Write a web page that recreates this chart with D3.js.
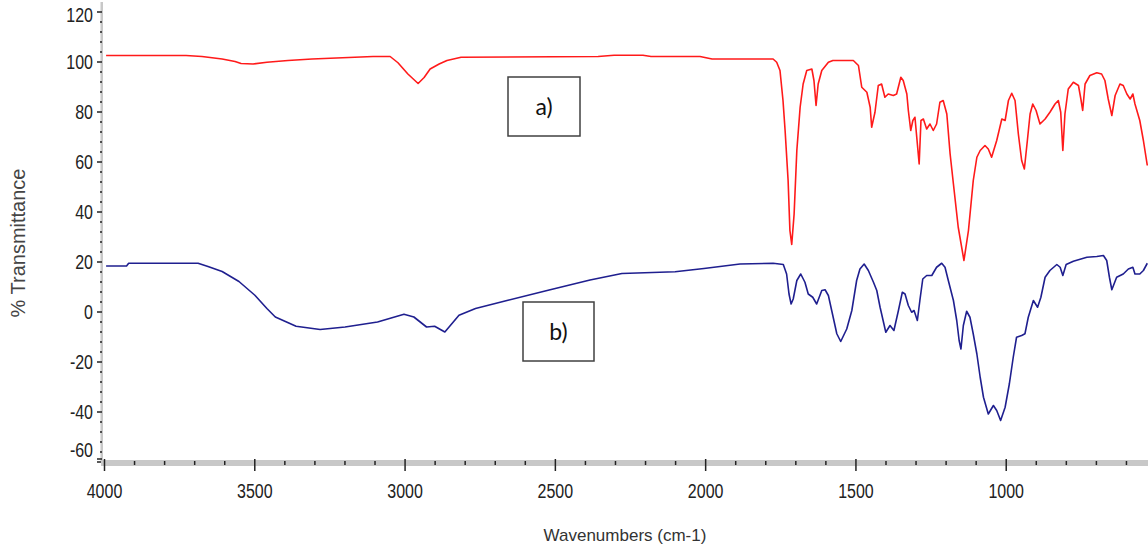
<!DOCTYPE html>
<html>
<head>
<meta charset="utf-8">
<script src="https://cdnjs.cloudflare.com/ajax/libs/d3/7.8.5/d3.min.js"></script>
<style>
  body { margin: 0; background: #fff; }
  svg { display: block; }
</style>
</head>
<body>
<div id="chart"></div>
<script>
// spectrum a) (red)
const redWavenumbers = [3993, 3727, 3674, 3607, 3564, 3544, 3504, 3458, 3388, 3308, 3105, 3048, 3022, 2989, 2955, 2935, 2915, 2885, 2859, 2812,
    2356, 2303, 2207, 2180, 2017, 1977, 1774, 1762, 1751, 1741, 1734, 1724, 1718, 1712, 1704, 1695, 1684, 1674, 1662, 1645,
    1638, 1631, 1624, 1612, 1590, 1575, 1507, 1490, 1479, 1462, 1451, 1446, 1435, 1424, 1413, 1402, 1391, 1374, 1363, 1349,
    1341, 1329, 1324, 1316, 1309, 1302, 1296, 1288, 1282, 1274, 1263, 1252, 1241, 1230, 1219, 1208, 1196, 1185, 1174, 1158,
    1139, 1124, 1108, 1096, 1085, 1069, 1058, 1047, 1030, 1013, 1002, 991, 980, 969, 958, 947, 938, 928, 919, 910,
    899, 886, 869, 853, 836, 825, 817, 810, 803, 792, 775, 758, 750, 744, 736, 720, 697, 681, 670, 659,
    647, 636, 620, 609, 597, 586, 577, 570, 554, 542, 529];
const redTransmittance = [102.4, 102.4, 102, 101, 100, 99.2, 99, 99.7, 100.4, 101, 102, 102, 99.5, 95, 91.2, 93.6, 97, 99, 100.4, 101.7,
    102, 102.5, 102.5, 102, 102, 101, 101, 99.7, 96.4, 84.4, 72.4, 52.4, 32.4, 26.8, 39, 64.4, 81.7, 91, 96.4, 97,
    92.4, 82.4, 91, 96.4, 99.7, 100.4, 100.4, 98.4, 89.7, 87.7, 81.7, 73.7, 79.7, 90.4, 91, 85.7, 87, 86.4, 87, 93.7,
    92.4, 87, 80.4, 72.4, 76.4, 77.7, 69.7, 59, 76.4, 77, 73, 75, 72.4, 75, 83.7, 84.4, 79, 63, 51, 33.7,
    20.4, 32.4, 52.4, 61.7, 64.4, 66.4, 65, 61.7, 68.4, 77, 76.4, 84.4, 87.3, 84.4, 71, 60.4, 57, 68.4, 79, 83,
    80.4, 75, 77, 79.7, 83, 84.4, 79.7, 64.4, 79, 89, 91.7, 90.4, 85, 80.4, 91, 94.4, 95.5, 95, 92.4, 85,
    78.4, 86.4, 91, 90.4, 87, 85, 87, 83, 76.4, 68.4, 58.4];

// spectrum b) (blue)
const blueWavenumbers = [3993, 3925, 3918, 3687, 3654, 3607, 3551, 3498, 3458, 3430, 3361, 3281, 3198, 3090, 3002, 2969, 2927, 2900, 2866, 2819,
    2764, 2656, 2519, 2383, 2277, 2100, 2004, 1884, 1774, 1740, 1729, 1721, 1714, 1707, 1695, 1682, 1668, 1657, 1642, 1629,
    1612, 1601, 1590, 1579, 1562, 1549, 1529, 1512, 1496, 1485, 1471, 1457, 1440, 1429, 1418, 1399, 1385, 1372, 1357, 1344,
    1335, 1324, 1313, 1305, 1294, 1285, 1276, 1263, 1246, 1230, 1213, 1202, 1191, 1174, 1163, 1155, 1149, 1141, 1130, 1119,
    1108, 1096, 1085, 1074, 1058, 1041, 1030, 1017, 1002, 988, 975, 964, 947, 936, 925, 908, 894, 883, 869, 853,
    830, 819, 810, 799, 775, 730, 697, 675, 664, 655, 647, 631, 609, 592, 577, 570, 554, 542, 529];
const blueTransmittance = [18.2, 18.2, 19.3, 19.3, 18, 16, 12, 6.5, 1.2, -2.2, -5.9, -7.2, -6.2, -4.2, -1.1, -2.2, -6.2, -5.9, -8.2, -1.5,
    1.2, 4.5, 8.6, 12.6, 15.2, 15.9, 17.2, 19, 19.3, 18.8, 15, 7, 3, 5, 12.4, 15, 11.7, 7, 5.7, 3,
    8.4, 8.7, 6.4, 0.4, -8.9, -12, -7, 0.4, 12.4, 17, 19, 16.4, 11.7, 8.4, 1.7, -8.3, -5.6, -7.6, 0.4, 7.7,
    7, 2.4, -0.3, 0.4, -3.6, 5, 13, 14.4, 14.4, 17.7, 19.3, 17.7, 12.4, 4.4, -3.6, -11.6, -15, -5.6, 0.1, -2.3,
    -9, -17, -26.3, -34.3, -41, -37.6, -39.6, -43.6, -38.3, -29, -18.3, -10.3, -9.6, -8.9, -2.3, 4.4, 1.7, 5.7, 13.7, 16.4,
    18.8, 17.7, 14.4, 18.8, 20.1, 21.7, 22, 22.4, 20.4, 13.7, 8.7, 13.7, 15, 17, 17.7, 15, 15, 16.4, 19.3];

const xTickValues = [4000, 3500, 3000, 2500, 2000, 1500, 1000];
const yTickValues = [120, 100, 80, 60, 40, 20, 0, -20, -40, -60];
const seriesLabels = ["a)", "b)"];

const width = 1148;
const height = 550;

const svg = d3.select("#chart")
    .append("svg")
    .attr("width", width)
    .attr("height", height);

const x = d3.scaleLinear()
    .domain([4000, 525])
    .range([104, 1148.5]);

const y = d3.scaleLinear()
    .domain([-60, 120])
    .range([461.5, 11.5]);

const labelFont = "'Liberation Sans', Arial, sans-serif";

// left axis: light gray band with dark ticks
svg.append("rect")
    .attr("x", 100.5)
    .attr("y", 2)
    .attr("width", 2.5)
    .attr("height", 459)
    .attr("fill", "#c8c8c8");

const yMinor = d3.range(-60, 121, 4).filter(v => v % 20 !== 0);
svg.append("g")
    .attr("transform", "translate(102,0)")
    .call(d3.axisLeft(y).tickValues(yMinor).tickSize(2).tickFormat(""))
    .call(g => g.select(".domain").remove())
    .call(g => g.selectAll("line").attr("stroke", "#222").attr("stroke-width", 1.5));

const yAxisGroup = svg.append("g")
    .attr("transform", "translate(102,0)")
    .call(d3.axisLeft(y).tickValues(yTickValues).tickSize(5).tickPadding(4).tickFormat(d => String(d)))
    .call(g => g.select(".domain").remove());

yAxisGroup.selectAll("line")
    .attr("stroke", "#222")
    .attr("stroke-width", 1.5);

yAxisGroup.selectAll("text")
    .attr("font-family", labelFont)
    .attr("font-size", 16)
    .attr("fill", "#222")
    .attr("dy", "0.36em")
    .attr("transform", d => {
        let off = 0;
        if (d === 120) off = 3;
        if (d === -60) off = -12;
        return `translate(0,${off}) scale(1,1.3)`;
    });

// bottom axis: thick gray bar
svg.append("rect")
    .attr("x", 101)
    .attr("y", 460)
    .attr("width", width - 101)
    .attr("height", 6)
    .attr("fill", "#c8c8c8");

const xMinor = d3.range(4000, 500, -100).filter(v => v % 500 !== 0);
svg.append("g")
    .attr("transform", "translate(0,461)")
    .call(d3.axisBottom(x).tickValues(xMinor).tickSize(4).tickFormat(""))
    .call(g => g.select(".domain").remove())
    .call(g => g.selectAll("line").attr("stroke", "#222").attr("stroke-width", 1.5));

const xAxisGroup = svg.append("g")
    .attr("transform", "translate(0,459)")
    .call(d3.axisBottom(x).tickValues(xTickValues).tickSize(12).tickFormat(d => String(d)))
    .call(g => g.select(".domain").remove());

xAxisGroup.selectAll("line")
    .attr("stroke", "#222")
    .attr("stroke-width", 1.5);

xAxisGroup.selectAll("text")
    .attr("font-family", labelFont)
    .attr("font-size", 16)
    .attr("fill", "#222")
    .attr("y", 0)
    .attr("dy", 0)
    .attr("transform", "translate(0,39) scale(1,1.3)");

// corner tick at the bottom of the left axis
svg.append("line")
    .attr("x1", 97)
    .attr("x2", 102)
    .attr("y1", 459)
    .attr("y2", 459)
    .attr("stroke", "#222")
    .attr("stroke-width", 1.5);

// axis titles
svg.append("text")
    .attr("x", 625)
    .attr("y", 541)
    .attr("text-anchor", "middle")
    .attr("font-family", labelFont)
    .attr("font-size", 17)
    .attr("fill", "#333")
    .text("Wavenumbers (cm-1)");

svg.append("text")
    .attr("transform", "translate(25,243) rotate(-90)")
    .attr("text-anchor", "middle")
    .attr("font-family", labelFont)
    .attr("font-size", 20)
    .attr("fill", "#444")
    .text("% Transmittance");

// spectra
const line = d3.line()
    .x(d => x(d[0]))
    .y(d => y(d[1]))
    .curve(d3.curveLinear);

svg.append("path")
    .datum(redWavenumbers.map((w, i) => [w, redTransmittance[i]]))
    .attr("fill", "none")
    .attr("stroke", "#ff1a1a")
    .attr("stroke-width", 1.6)
    .attr("stroke-linejoin", "round")
    .attr("d", line);

svg.append("path")
    .datum(blueWavenumbers.map((w, i) => [w, blueTransmittance[i]]))
    .attr("fill", "none")
    .attr("stroke", "#1f1f8f")
    .attr("stroke-width", 1.6)
    .attr("stroke-linejoin", "round")
    .attr("d", line);

// boxed labels a) and b)
const boxes = [
    { x: 508, y: 77, w: 72, h: 59 },
    { x: 523, y: 302, w: 71, h: 59 }
];

boxes.forEach((b, i) => {
    svg.append("rect")
        .attr("x", b.x)
        .attr("y", b.y)
        .attr("width", b.w)
        .attr("height", b.h)
        .attr("fill", "#fff")
        .attr("stroke", "#404040")
        .attr("stroke-width", 1.5);

    svg.append("text")
        .attr("x", b.x + b.w / 2)
        .attr("y", b.y + b.h / 2 + 8)
        .attr("text-anchor", "middle")
        .attr("font-family", "Lato, 'Open Sans', sans-serif")
        .attr("font-size", 23)
        .attr("fill", "#111")
        .text(seriesLabels[i]);
});
</script>
</body>
</html>
